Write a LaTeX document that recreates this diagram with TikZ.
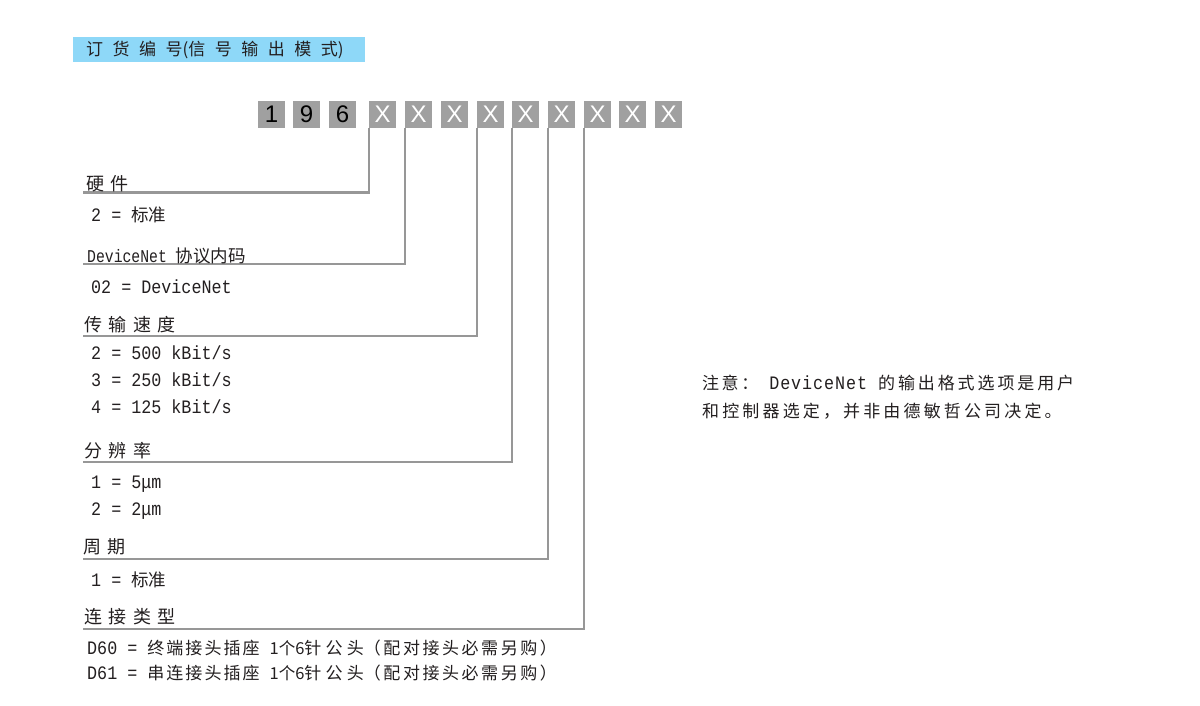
\documentclass[tikz,border=0pt]{standalone}
\usepackage{fontspec}
\setmainfont{Liberation Serif}
\newfontfamily\cjkf{Noto Sans CJK SC}
\newfontfamily\monof[FakeStretch=0.88]{Liberation Mono}
\newfontfamily\monofn[FakeStretch=0.82]{Liberation Mono}
\newfontfamily\sansf{Liberation Sans}
\definecolor{boxgray}{HTML}{A0A0A0}
\definecolor{linegray}{HTML}{979797}
\definecolor{headblue}{HTML}{8ED8F8}
\definecolor{ink}{HTML}{231F20}
\newcommand\zhtxt[1]{{\cjkf\fontsize{17.5}{17.5}\selectfont #1}}
\newcommand\zhsp[2]{{\cjkf\fontsize{17}{17}\selectfont\addfontfeature{LetterSpace=#1}\relax#2}}
\newcommand\zhsm[1]{{\cjkf\fontsize{16.5}{16.5}\selectfont #1}}
\newcommand\monosp[1]{{\monof\fontsize{19}{19}\selectfont\addfontfeature{LetterSpace=5}\relax#1}}
\newcommand\hdfont{\cjkf\fontsize{17}{17}\selectfont\spaceskip=9.5pt\relax}
\newcommand\lblfont{\cjkf\fontsize{18}{18}\selectfont\spaceskip=6.5pt\relax}
\begin{document}
\begin{tikzpicture}[x=1pt,y=-1pt,
 digit/.style={rectangle,fill=boxgray,minimum width=27pt,minimum height=27pt,inner sep=0pt,font=\sansf\fontsize{24}{24}\selectfont,text=black},
 xbox/.style={digit,text=white},
 conn/.style={draw=linegray,line width=2.1pt},
 lbl/.style={anchor=west,inner sep=0pt,text=ink,font=\lblfont},
 val/.style={anchor=west,inner sep=0pt,text=ink,font=\monof\fontsize{19}{19}\selectfont},
 plain/.style={anchor=west,inner sep=0pt,text=ink},
]
\useasboundingbox (0,0) rectangle (1200,705);
\fill[white] (0,0) rectangle (1200,705);

% header
\fill[headblue] (73,37) rectangle (365,62);
\node[anchor=west,inner sep=0pt,text=ink,font=\hdfont] (hd) at (86,49.5) {订 货 编 号(信 号 输 出 模 式)};

% code boxes
\node[digit] (b1) at (271.5,114.5) {1};
\node[digit] (b2) at (306.5,114.5) {9};
\node[digit] (b3) at (342.5,114.5) {6};
\node[xbox] (b4) at (382.5,114.5) {X};
\node[xbox] (b5) at (418.5,114.5) {X};
\node[xbox] (b6) at (454.5,114.5) {X};
\node[xbox] (b7) at (490.5,114.5) {X};
\node[xbox] (b8) at (525.5,114.5) {X};
\node[xbox] (b9) at (561.5,114.5) {X};
\node[xbox] (b10) at (597.5,114.5) {X};
\node[xbox] (b11) at (632.5,114.5) {X};
\node[xbox] (b12) at (668.5,114.5) {X};

% connector ends
\coordinate (e1) at (83,192.5);
\coordinate (e2) at (83,264);
\coordinate (e3) at (83,336);
\coordinate (e4) at (83,462);
\coordinate (e5) at (83,559);
\coordinate (e6) at (83,629);
\draw[conn] (b4.south west) |- (e1);
\draw[conn] (b5.south west) |- (e2);
\draw[conn] (b7.south west) |- (e3);
\draw[conn] (b8.south west) |- (e4);
\draw[conn] (b9.south west) |- (e5);
\draw[conn] (b10.south west) |- (e6);

% labels
\node[lbl] (l1) at (86,184) {硬 件};
\node[plain] (l2) at (87,256) {{\monofn\fontsize{18}{18}\selectfont DeviceNet }\zhtxt{协议内码}};
\node[lbl] (l3) at (84,325) {传 输 速 度};
\node[lbl] (l4) at (84,451) {分 辨 率};
\node[lbl] (l5) at (83,547) {周 期};
\node[lbl] (l6) at (84,617) {连 接 类 型};

% values
\node[val] (v1) at (91,215) {2 = \zhtxt{标准}};
\node[val] (v2) at (91,287) {02 = DeviceNet};
\node[val] (v3) at (91,353) {2 = 500 kBit/s};
\node[val] (v4) at (91,380) {3 = 250 kBit/s};
\node[val] (v5) at (91,407) {4 = 125 kBit/s};
\node[val] (v6) at (91,484) {1 = 5μm};
\node[val] (v7) at (91,511) {2 = 2μm};
\node[val] (v8) at (91,580) {1 = \zhtxt{标准}};
\node[val] (v9) at (87,648) {D60 = \zhsp{12}{终端接头插座} \zhsm{1个6}\zhsp{25}{针公头}\zhsp{15}{（配对接头必需另购）}};
\node[val] (v10) at (87,673) {D61 = \zhsp{12}{串连接头插座} \zhsm{1个6}\zhsp{25}{针公头}\zhsp{15}{（配对接头必需另购）}};

% note
\node[plain] (n1) at (702,383) {\zhsp{15}{注意：}\monosp{ DeviceNet }\zhsp{17}{的输出格式选项是用户}};
\node[plain] (n2) at (702,411) {\zhsp{18.5}{和控制器选定，并非由德敏哲公司决定。}};
\end{tikzpicture}
\end{document}
